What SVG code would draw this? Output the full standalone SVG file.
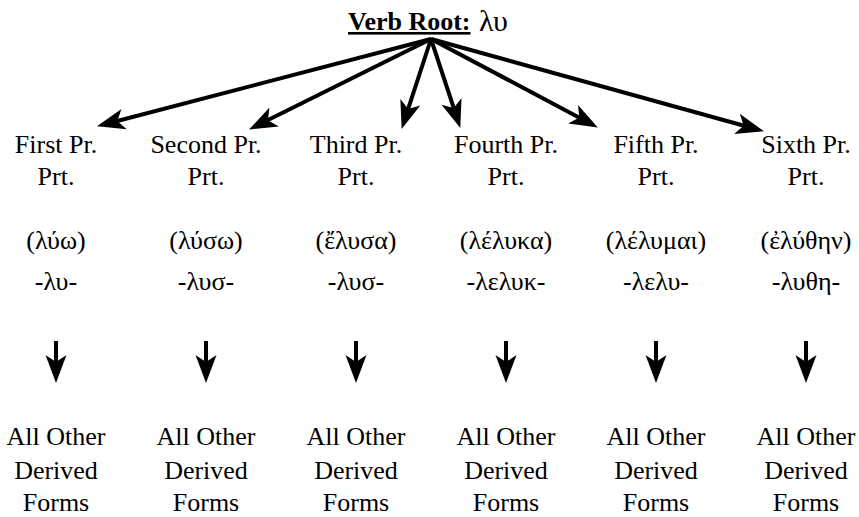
<svg xmlns="http://www.w3.org/2000/svg" width="859" height="517" viewBox="0 0 859 517">
  <style>
    text { font-family: "Liberation Serif", "DejaVu Serif", serif; font-size: 26px; fill: #000; text-anchor: middle; }
    .title { font-weight: bold; text-decoration: underline; text-anchor: start; }
    .root { font-size: 30px; text-anchor: start; }
    .conn line { stroke: #000; stroke-width: 4; marker-end: url(#head); }
  </style>
  <defs>
    <marker id="head" markerUnits="userSpaceOnUse" viewBox="0 -12 28 24" markerWidth="28" markerHeight="24" refX="13" refY="0" orient="auto">
      <path d="M28,0 L0,-10.5 L7,0 L0,10.5 Z" fill="#000"/>
    </marker>
  </defs>

  <g id="root">
    <text class="title" x="348" y="30">Verb Root:</text>
    <text class="root" x="479" y="31">λυ</text>
  </g>

  <g class="conn" id="connectors">
    <line x1="431" y1="39" x2="111.5" y2="122.5"/>
    <line x1="431" y1="39" x2="262.5" y2="122.8"/>
    <line x1="431" y1="39" x2="406.3" y2="114.7"/>
    <line x1="431" y1="39" x2="455.6" y2="113.7"/>
    <line x1="431" y1="39" x2="584.6" y2="120.4"/>
    <line x1="431" y1="39" x2="749.5" y2="127.3"/>
    <line x1="56" y1="341" x2="56" y2="368"/>
    <line x1="206" y1="341" x2="206" y2="368"/>
    <line x1="356" y1="341" x2="356" y2="368"/>
    <line x1="506" y1="341" x2="506" y2="368"/>
    <line x1="656" y1="341" x2="656" y2="368"/>
    <line x1="806" y1="341" x2="806" y2="368"/>
  </g>

  <g id="part1">
    <text x="56" y="153">First Pr.</text>
    <text x="56" y="185">Prt.</text>
    <text x="56" y="249">(λύω)</text>
    <text x="56" y="290">-λυ-</text>
  </g>
  <g id="part2">
    <text x="206" y="153">Second Pr.</text>
    <text x="206" y="185">Prt.</text>
    <text x="206" y="249">(λύσω)</text>
    <text x="206" y="290">-λυσ-</text>
  </g>
  <g id="part3">
    <text x="356" y="153">Third Pr.</text>
    <text x="356" y="185">Prt.</text>
    <text x="356" y="249">(ἔλυσα)</text>
    <text x="356" y="290">-λυσ-</text>
  </g>
  <g id="part4">
    <text x="506" y="153">Fourth Pr.</text>
    <text x="506" y="185">Prt.</text>
    <text x="506" y="249">(λέλυκα)</text>
    <text x="506" y="290">-λελυκ-</text>
  </g>
  <g id="part5">
    <text x="656" y="153">Fifth Pr.</text>
    <text x="656" y="185">Prt.</text>
    <text x="656" y="249">(λέλυμαι)</text>
    <text x="656" y="290">-λελυ-</text>
  </g>
  <g id="part6">
    <text x="806" y="153">Sixth Pr.</text>
    <text x="806" y="185">Prt.</text>
    <text x="806" y="249">(ἐλύθην)</text>
    <text x="806" y="290">-λυθη-</text>
  </g>

  <g id="derived1">
    <text x="56" y="445">All Other</text>
    <text x="56" y="479">Derived</text>
    <text x="56" y="511">Forms</text>
  </g>
  <g id="derived2">
    <text x="206" y="445">All Other</text>
    <text x="206" y="479">Derived</text>
    <text x="206" y="511">Forms</text>
  </g>
  <g id="derived3">
    <text x="356" y="445">All Other</text>
    <text x="356" y="479">Derived</text>
    <text x="356" y="511">Forms</text>
  </g>
  <g id="derived4">
    <text x="506" y="445">All Other</text>
    <text x="506" y="479">Derived</text>
    <text x="506" y="511">Forms</text>
  </g>
  <g id="derived5">
    <text x="656" y="445">All Other</text>
    <text x="656" y="479">Derived</text>
    <text x="656" y="511">Forms</text>
  </g>
  <g id="derived6">
    <text x="806" y="445">All Other</text>
    <text x="806" y="479">Derived</text>
    <text x="806" y="511">Forms</text>
  </g>
</svg>
